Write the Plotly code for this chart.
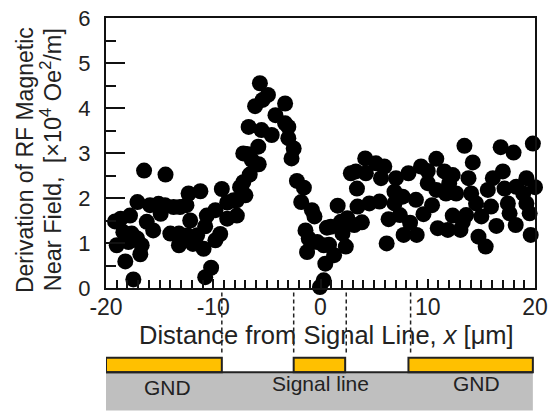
import plotly.graph_objects as go

x_values = [-16.45,-14.45,-17.07,-17.76,-18.63,-19.16,-18.38,-17.6,-19,-17.9,-17.1,-16.67,-16.8,-18.2,-17.45,
-16.2,-15.6,-15.9,-15.1,-14.5,-14.9,-13.7,-13.1,-12.5,-12.3,-11.2,-14,-13.2,-13.2,-12.15,-11.5,-12.4,-11.9,-10.9,-10.75,-10.6,-9.8,-9.2,-9.35,-9.8,-10.2,-10.75,
-8.7,-7.8,-8.7,-8.1,-7,-7.5,-7.8,-7.2,-6.6,-5.76,-6.4,-6.85,-5.8,-7.2,-6.7,-5.5,-6.1,-5.65,-4.9,-5.4,-3.3,-4.2,-3.3,-3,-4.55,-3,-2.5,-2.7,
-2.2,-1.55,-1.8,-0.8,-0.56,-1.4,-1.1,-0.3,-1.25,0.3,0.6,0.45,0.3,-0.05,
0.8,1.27,2.36,1.6,0.96,1.9,2.5,2.05,3.15,3.86,3.45,4.55,5.5,3.4,2.83,3.3,4.17,4.23,5.17,5.95,5.64,6.17,6.35,7.4,7.04,8.2,6.9,6.9,7.66,8.9,8.35,7.75,8.97,9.6,10.4,
9.37,10,10.8,10,10.8,11.7,11.55,12.33,12,12.65,10.93,11.87,13.05,12.33,13.58,13.27,13.42,14.2,13.8,14.05,14.5,15,15.9,14.73,15.4,16.4,15.6,16.07,17,16.8,18,17.16,18.25,17.47,17.63,18.2,19.2,18.9,19.2,19.5,19.6,19.8,20]
y_values = [2.61,2.52,1.91,1.61,1.54,1.48,1.24,1.21,0.95,1.02,1.1,0.95,0.75,0.59,0.19,
1.47,1.28,1.84,1.87,1.84,1.65,1.8,1.8,1.84,2.1,2.15,1.21,1.21,0.95,1.5,1.17,1.17,0.98,0.87,1.37,1.61,1.73,2.2,1.2,1.06,0.45,0.24,
1.54,1.61,1.9,1.95,2.06,2.24,1.95,2.35,2.52,2.75,2.84,2.98,3.14,2.99,3.58,3.51,4.04,4.55,4.29,4.18,4.1,3.84,3.66,3.58,3.4,3.33,3.1,2.88,
2.38,2.23,1.91,1.73,1.59,1.28,1.1,1.02,0.8,0.95,1.34,0.54,0.17,0.02,
0.96,0.73,0.92,1.83,1.36,1.47,1.55,1.21,1.4,1.46,1.81,1.88,1.92,2.21,2.55,2.59,2.88,2.55,2.77,2.7,2.44,0.99,1.53,1.62,2.44,2.55,2.14,1.88,2.03,1.96,1.45,1.18,1.18,1.64,1.84,
2.7,2.6,2.87,2.33,2.18,2.1,2.59,2.51,2.33,2.1,1.33,1.29,1.29,1.61,1.62,1.47,3.16,2.79,2.44,2.1,1.88,1.59,1.81,1.14,0.92,1.38,2.18,2.44,2.59,3.13,3.01,2.21,2.25,1.88,1.66,1.4,2.44,2.1,1.88,1.66,1.18,3.21,2.24]
boundaries = [-9.2, -2.5, 2.4, 8.4]
gold_segments = [(-20, -9.2), (-2.5, 2.3), (8.2, 19.8)]

fig = go.Figure(go.Scatter(x=x_values, y=y_values, mode="markers",
    marker=dict(color="black", size=16), cliponaxis=False))

FONT = "Liberation Sans"

def py(v):
    return v / 6

shapes = [dict(type="rect", xref="x", yref="paper", x0=-20, x1=19.8, y0=py(-2.72), y1=py(-1.87),
               fillcolor="#bfbfbf", line_width=0, layer="below")]
for a, b in gold_segments:
    shapes.append(dict(type="rect", xref="x", yref="paper", x0=a, x1=b, y0=py(-1.87), y1=py(-1.55),
                       fillcolor="#ffc000", line=dict(color="#222", width=2)))
shapes.append(dict(type="line", xref="x", yref="paper", x0=-20, x1=19.8, y0=py(-1.87), y1=py(-1.87),
                   line=dict(color="#222", width=2)))
for b in boundaries:
    shapes.append(dict(type="line", xref="x", yref="paper", x0=b, x1=b, y0=py(-0.1), y1=py(-1.5),
                       line=dict(color="#222", width=1.5, dash="4px,3px")))

def note(x, y, text, size=19, xref="x", **kw):
    return dict(xref=xref, yref="paper", x=x, y=py(y), text=text, showarrow=False,
                xanchor="center", yanchor="middle",
                font=dict(family=FONT, size=size, color="#222"), **kw)

annotations = [
    note(0.6, -1.04, "Distance from Signal Line, <i>x</i> [μm]", size=25.5),
    note(-14.3, -2.2, "GND", size=21),
    note(0, -2.12, "Signal line", size=21),
    note(14.5, -2.12, "GND", size=21),
    note(-0.189, 2.84, "Derivation of RF Magnetic", size=23, xref="paper", textangle=-90),
    note(-0.128, 2.84, "Near Field,  [×10<sup>4</sup> Oe<sup>2</sup>/m]", size=23.5, xref="paper", textangle=-90),
]

fig.update_layout(width=552, height=411, margin=dict(l=106, r=17, t=18, b=123, pad=0),
    autosize=False, paper_bgcolor="white", plot_bgcolor="white", showlegend=False,
    shapes=shapes, annotations=annotations,
    font=dict(family=FONT, color="#222"))
fig.update_xaxes(range=[-20, 20], tickvals=[-20, -10, 0, 10, 20], ticktext=["-20", "-10", "0", "10", "20"],
    automargin=False,
    ticks="inside", ticklen=9, tickwidth=1.5, tickcolor="#111", showline=True, mirror=True,
    linecolor="#111", linewidth=2, showgrid=False, zeroline=False, tickfont=dict(size=23),
    ticklabelstandoff=-3,
    minor=dict(dtick=1, tick0=0, ticks="inside", ticklen=8, tickwidth=1.5, tickcolor="#111", showgrid=False))
fig.update_yaxes(range=[0, 6], dtick=1, ticks="inside", ticklen=19, tickwidth=1.5, tickcolor="#111",
    automargin=False,
    showline=True, mirror=True, linecolor="#111", linewidth=2, showgrid=False, zeroline=False,
    tickfont=dict(size=22), ticklabelstandoff=9,
    minor=dict(dtick=0.5, ticks="inside", ticklen=10, tickwidth=1.5, tickcolor="#111", showgrid=False))
fig.write_html("out.html", config={"displayModeBar": False},
               post_script="document.body.style.margin='0';document.documentElement.style.overflow='hidden';")
